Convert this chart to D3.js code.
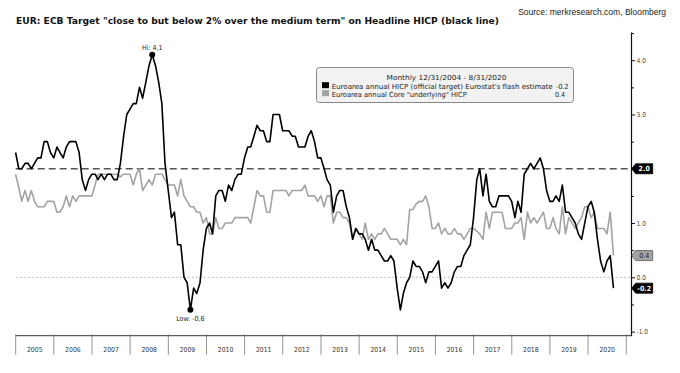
<!DOCTYPE html>
<html>
<head>
<meta charset="utf-8">
<script src="https://cdn.jsdelivr.net/npm/d3@7"></script>
<style>
  body { margin: 0; background: #fff; }
  svg { display: block; }
  text { font-family: "DejaVu Sans Condensed", "DejaVu Sans", sans-serif; font-stretch: condensed; }
</style>
</head>
<body>
<div id="chart"></div>
<script>
// monthly data, 12/31/2004 .. 8/31/2020 (one value per month end)
var startYear = 2005;
var headline = [
  2.3,
  2.0, 2.0, 2.1, 2.1, 2.0, 2.1, 2.2, 2.2, 2.5, 2.5, 2.3, 2.2,
  2.4, 2.3, 2.2, 2.4, 2.5, 2.5, 2.5, 2.3, 1.8, 1.6, 1.8, 1.9,
  1.9, 1.8, 1.9, 1.8, 1.9, 1.9, 1.8, 1.8, 2.1, 2.6, 3.0, 3.1,
  3.2, 3.2, 3.5, 3.3, 3.6, 3.9, 4.1, 3.9, 3.6, 3.2, 2.1, 1.6,
  1.1, 1.2, 0.6, 0.6, 0.0, -0.1, -0.6, -0.2, -0.3, -0.1, 0.5, 0.9,
  1.0, 0.8, 1.5, 1.6, 1.6, 1.4, 1.7, 1.6, 1.8, 1.9, 1.9, 2.2,
  2.4, 2.4, 2.6, 2.8, 2.7, 2.7, 2.5, 2.5, 3.0, 3.0, 3.0, 2.7,
  2.7, 2.7, 2.6, 2.6, 2.4, 2.4, 2.4, 2.6, 2.7, 2.5, 2.2, 2.2,
  2.0, 1.8, 1.7, 1.2, 1.5, 1.6, 1.6, 1.3, 1.1, 0.7, 0.9, 0.8,
  0.8, 0.7, 0.5, 0.7, 0.5, 0.5, 0.4, 0.3, 0.3, 0.4, 0.3, -0.2,
  -0.6, -0.3, -0.1, 0.0, 0.3, 0.2, 0.2, 0.1, -0.1, 0.1, 0.1, 0.2,
  0.3, -0.2, -0.1, -0.2, -0.1, 0.1, 0.2, 0.2, 0.4, 0.5, 0.6, 1.1,
  1.8, 2.0, 1.5, 1.9, 1.4, 1.3, 1.3, 1.5, 1.5, 1.5, 1.5, 1.4,
  1.1, 1.4, 1.2, 1.9, 2.0, 2.1, 2.0, 2.1, 2.2, 2.0, 1.6, 1.4,
  1.4, 1.5, 1.4, 1.7, 1.2, 1.2, 1.1, 1.0, 0.8, 0.7, 1.0, 1.3,
  1.4, 1.2, 0.7, 0.3, 0.1, 0.3, 0.4, -0.2
];
var core = [
  1.9,
  1.65, 1.4, 1.6, 1.4, 1.6, 1.4, 1.3, 1.3, 1.3, 1.4, 1.4, 1.4,
  1.2, 1.2, 1.3, 1.5, 1.3, 1.5, 1.4, 1.5, 1.5, 1.5, 1.5, 1.5,
  1.7, 1.9, 1.9, 1.9, 1.9, 1.9, 1.9, 1.9, 1.85, 1.9, 1.9, 1.9,
  1.7, 1.9, 2.0, 1.6, 1.7, 1.8, 1.7, 1.9, 1.9, 1.9, 1.8, 1.7,
  1.7, 1.7, 1.5, 1.8, 1.5, 1.4, 1.3, 1.3, 1.2, 1.2, 1.0, 1.1,
  0.8, 0.8, 1.1, 0.9, 0.9, 1.0, 1.0, 1.0, 1.1, 1.1, 1.1, 1.1,
  1.1, 1.0, 1.3, 1.6, 1.5, 1.5, 1.2, 1.2, 1.6, 1.6, 1.6, 1.6,
  1.6, 1.5, 1.6, 1.6, 1.6, 1.6, 1.7, 1.5, 1.5, 1.5, 1.4, 1.5,
  1.3, 1.5, 1.5, 1.0, 1.2, 1.2, 1.1, 1.1, 1.0, 0.7, 0.9, 0.8,
  0.7, 1.0, 0.7, 0.8, 0.7, 0.8, 0.8, 0.9, 0.8, 0.7, 0.7, 0.7,
  0.6, 0.7, 0.6, 1.25, 1.25, 1.35, 1.4, 1.4, 1.5, 1.3, 0.9, 0.9,
  1.0, 0.8, 0.9, 0.8, 0.8, 0.9, 0.8, 0.8, 0.7, 0.8, 0.9, 0.9,
  0.85, 0.8, 0.7, 1.2, 0.9, 1.2, 1.2, 1.2, 1.2, 0.9, 0.9, 0.9,
  1.0, 1.0, 1.1, 0.7, 1.2, 1.0, 1.1, 1.0, 1.1, 1.2, 0.9, 0.9,
  1.1, 0.9, 0.8, 1.3, 0.8, 1.1, 1.0, 0.9, 1.0, 1.1, 1.3, 1.3,
  1.1, 1.2, 0.9, 0.9, 0.9, 0.8, 1.2, 0.4
];
var yearLabels = ["2005","2006","2007","2008","2009","2010","2011","2012",
                  "2013","2014","2015","2016","2017","2018","2019","2020"];
var yTicks = [-1, 0, 1, 2, 3, 4];
var yMinor = [-0.5, 0.5, 1.5, 2.5, 3.5, 4.5];
var target = 2.0;
var legendNames = ["Euroarea annual HICP (official target) Eurostat's flash estimate",
                   "Euroarea annual Core \"underlying\" HICP"];

var W = 680, H = 373;
var svg = d3.select("#chart").append("svg")
    .attr("width", W).attr("height", H);

// month end dates -> day 0 of the next month
function monthEnd(i) { return new Date(startYear, i, 0); }

var x = d3.scaleTime()
  .domain([new Date(startYear, 0, 1), new Date(startYear + yearLabels.length, 0, 1)])
  .range([15.7, 626.3]);
var y = d3.scaleLinear()
  .domain([-1.076, 4.52])
  .range([335.7, 32]);
var axisX = 631;

// title + source
svg.append("text")
  .attr("x", 16).attr("y", 24)
  .attr("textLength", 483).attr("lengthAdjust", "spacingAndGlyphs")
  .style("font-family", "'DejaVu Sans', sans-serif").style("font-stretch", "normal")
  .style("font-weight", "bold").style("font-size", "9.3px").attr("fill", "#111")
  .text("EUR: ECB Target \"close to but below 2% over the medium term\" on Headline HICP (black line)");
svg.append("text")
  .attr("x", 666).attr("y", 15).attr("text-anchor", "end")
  .style("font-family", "'Liberation Sans', Arial, sans-serif").style("font-stretch", "normal")
  .style("font-size", "8.5px").attr("fill", "#222")
  .text("Source: merkresearch.com, Bloomberg");

// reference lines
svg.append("line")
  .attr("x1", x.range()[0]).attr("x2", axisX)
  .attr("y1", y(0)).attr("y2", y(0))
  .attr("stroke", "#aaa").attr("stroke-width", 0.8).attr("stroke-dasharray", "2,2");
svg.append("line")
  .attr("x1", x.range()[0]).attr("x2", axisX)
  .attr("y1", y(target)).attr("y2", y(target))
  .attr("stroke", "#555").attr("stroke-width", 1.3).attr("stroke-dasharray", "7,4");

// series
var line = d3.line()
  .x(function(d, i) { return x(monthEnd(i)); })
  .y(function(d) { return y(d); });
svg.append("path").datum(core)
  .attr("d", line).attr("fill", "none")
  .attr("stroke", "#a3a3a3").attr("stroke-width", 1.6).attr("stroke-linejoin", "round");
svg.append("path").datum(headline)
  .attr("d", line).attr("fill", "none")
  .attr("stroke", "#000").attr("stroke-width", 1.6).attr("stroke-linejoin", "round");

// hi / low markers
var hiI = d3.maxIndex(headline), loI = d3.minIndex(headline);
[[hiI, "Hi: ", -5], [loI, "Low: ", 11]].forEach(function(m) {
  var cx = x(monthEnd(m[0])), cy = y(headline[m[0]]);
  svg.append("circle").attr("cx", cx).attr("cy", cy).attr("r", 3).attr("fill", "#000");
  svg.append("text")
    .attr("x", cx).attr("y", cy + m[2]).attr("text-anchor", "middle")
    .style("font-size", "7px").attr("fill", "#222")
    .text(m[1] + headline[m[0]].toFixed(1).replace(".", ","));
});

// bottom axis with year separators
var bottomY = y.range()[0];
svg.append("line")
  .attr("x1", x.range()[0]).attr("x2", axisX)
  .attr("y1", bottomY).attr("y2", bottomY)
  .attr("stroke", "#333").attr("stroke-width", 1);
var years = d3.timeYear.range(x.domain()[0], d3.timeDay.offset(x.domain()[1], 1));
svg.selectAll(".sep").data(years).enter().append("line")
  .attr("x1", function(d) { return x(d); }).attr("x2", function(d) { return x(d); })
  .attr("y1", bottomY - 1.5).attr("y2", bottomY + 19)
  .attr("stroke", "#777").attr("stroke-width", 0.8);
svg.selectAll(".yl").data(yearLabels).enter().append("text")
  .attr("x", function(d) { return (x(new Date(+d, 0, 1)) + x(new Date(+d + 1, 0, 1))) / 2; })
  .attr("y", 351.5).attr("text-anchor", "middle")
  .style("font-size", "6.8px").attr("fill", "#333")
  .text(function(d) { return d; });

// right axis
var gy = svg.append("g").attr("transform", "translate(" + axisX + ",0)");
gy.call(d3.axisRight(y).tickValues(yTicks).tickSize(4).tickSizeOuter(0)
  .tickFormat(function(d) { return d === target ? "" : d.toFixed(1); }));
gy.select(".domain").attr("stroke", "#111").attr("stroke-width", 1.2);
gy.selectAll(".tick line").attr("stroke", "#111");
gy.selectAll(".tick text")
  .attr("x", 5.5).attr("fill", "#444")
  .style("font-family", "'DejaVu Sans Condensed', 'DejaVu Sans', sans-serif")
  .style("font-size", "6.6px");
var gm = svg.append("g").attr("transform", "translate(" + axisX + ",0)");
gm.call(d3.axisRight(y).tickValues(yMinor).tickSize(3).tickSizeOuter(0).tickFormat(""));
gm.select(".domain").remove();
gm.selectAll(".tick line").attr("stroke", "#111");

// value tags on right axis
var tags = [
  {v: target, label: "2.0", fill: "#000", stroke: "#000", color: "#fff", bold: true},
  {v: core[core.length - 1], label: core[core.length - 1].toFixed(1), fill: "#a3a3a3", stroke: "#555", color: "#222", bold: false},
  {v: headline[headline.length - 1], label: headline[headline.length - 1].toFixed(1), fill: "#000", stroke: "#000", color: "#fff", bold: true}
];
tags.forEach(function(t) {
  var cy = y(t.v), x0 = axisX + 0.7;
  svg.append("path")
    .attr("d", "M" + x0 + "," + cy + "L" + (x0 + 4) + "," + (cy - 5) + "H" + (x0 + 21) +
      "V" + (cy + 5) + "H" + (x0 + 4) + "Z")
    .attr("fill", t.fill).attr("stroke", t.stroke).attr("stroke-width", 0.8);
  svg.append("text")
    .attr("x", x0 + 12.5).attr("y", cy + 2.5).attr("text-anchor", "middle")
    .style("font-size", "7px").style("font-weight", t.bold ? "bold" : "normal")
    .attr("fill", t.color).text(t.label);
});

// legend
var lg = svg.append("g");
lg.append("rect")
  .attr("x", 316.5).attr("y", 67.5).attr("width", 257).attr("height", 35).attr("rx", 3)
  .attr("fill", "#f2f2f2").attr("stroke", "#888").attr("stroke-width", 1);
lg.append("text")
  .attr("x", 446.5).attr("y", 80).attr("text-anchor", "middle")
  .attr("textLength", 120).attr("lengthAdjust", "spacingAndGlyphs")
  .style("font-size", "7px").attr("fill", "#222")
  .text("Monthly " + d3.timeFormat("%-m/%-d/%Y")(monthEnd(0)) + " - " +
        d3.timeFormat("%-m/%-d/%Y")(monthEnd(headline.length - 1)));
var rows = [
  {name: legendNames[0], color: "#000", last: headline[headline.length - 1], len: 221, endX: 568.5},
  {name: legendNames[1], color: "#a3a3a3", last: core[core.length - 1], len: 135, endX: 565}
];
rows.forEach(function(r, k) {
  var by = 88.5 + k * 8;
  lg.append("rect").attr("x", 322).attr("y", by - 6.3).attr("width", 7).attr("height", 6)
    .attr("fill", r.color);
  lg.append("text").attr("x", 331.7).attr("y", by)
    .attr("textLength", r.len).attr("lengthAdjust", "spacingAndGlyphs")
    .style("font-size", "7px").attr("fill", "#222").text(r.name);
  lg.append("text").attr("x", r.endX).attr("y", by).attr("text-anchor", "end")
    .style("font-size", "7px").attr("fill", "#222").text(r.last.toFixed(1));
});
</script>
</body>
</html>
